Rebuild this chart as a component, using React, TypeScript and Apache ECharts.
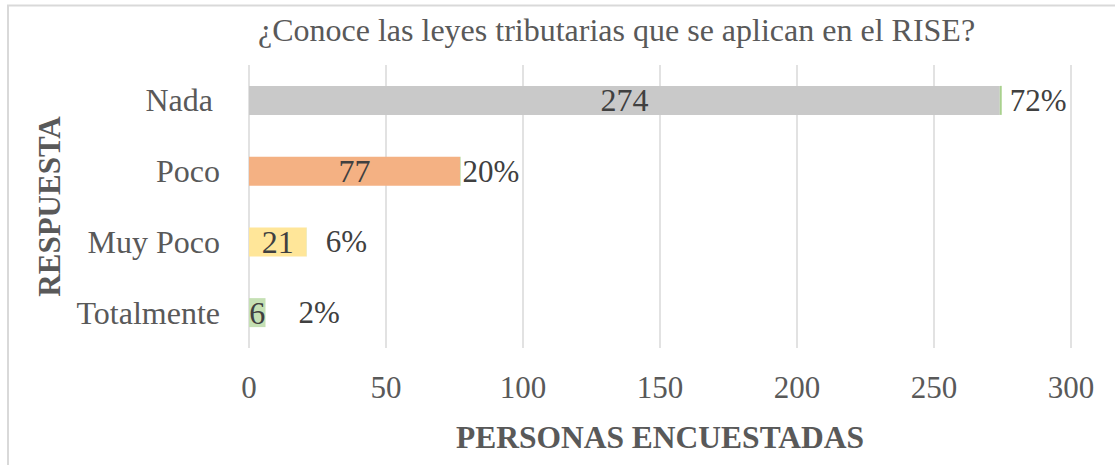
import React, { useEffect, useRef } from "react";
import * as echarts from "echarts";

const categories = ["Nada", "Poco", "Muy Poco", "Totalmente"];
const personas = [274, 77, 21, 6];
const porcentajes = [72, 20, 6, 2];
const xTicks = { min: 0, max: 300, interval: 50 };

const barColors = ["#c9c9c9", "#f4b183", "#ffe699", "#c5e0b4"];
const pctLabelGap = [8, 2, 19, 33];

const FONT = '"Liberation Serif", "Times New Roman", serif';
const TEXT = "#595959";
const DARK = "#404040";

export default function App() {
  const ref = useRef<HTMLDivElement>(null);
  useEffect(() => {
    document.body.style.margin = "0";
    if (!ref.current) return;
    const chart = echarts.init(ref.current, undefined, { renderer: "svg" });
    chart.setOption({
      animation: false,
      backgroundColor: "#ffffff",
      textStyle: { fontFamily: FONT },
      title: {
        text: "¿Conoce las leyes tributarias que se aplican en el RISE?",
        left: 258,
        top: 14,
        padding: 0,
        textStyle: { fontFamily: FONT, fontSize: 32, fontWeight: "normal", color: TEXT },
      },
      graphic: [
        {
          type: "rect",
          shape: { x: 8, y: 5.5, width: 1200, height: 600 },
          style: { fill: "none", stroke: "#d9d9d9", lineWidth: 2 },
          silent: true,
        },
      ],
      grid: { left: 249, right: 44, top: 65, bottom: 117 },
      xAxis: {
        type: "value",
        min: xTicks.min,
        max: xTicks.max,
        interval: xTicks.interval,
        axisLine: { show: false },
        axisTick: { show: false },
        splitLine: { show: true, lineStyle: { color: "#d9d9d9", width: 1.5 } },
        axisLabel: { color: TEXT, fontSize: 31, fontFamily: FONT, margin: 24 },
        name: "PERSONAS ENCUESTADAS",
        nameLocation: "middle",
        nameGap: 73,
        nameTextStyle: { color: TEXT, fontSize: 31.5, fontWeight: "bold", fontFamily: FONT },
      },
      yAxis: {
        type: "category",
        inverse: true,
        data: categories,
        axisLine: { show: false },
        axisTick: { show: false },
        axisLabel: {
          color: TEXT,
          fontSize: 32,
          fontFamily: FONT,
          margin: 29,
          formatter: (v: string) => (v === "Nada" ? `{pad|${v}}` : v),
          rich: {
            pad: { padding: [0, 7, 0, 0], color: TEXT, fontSize: 32, fontFamily: FONT },
          },
        },
        name: "RESPUESTA",
        nameLocation: "middle",
        nameRotate: 90,
        nameGap: 184,
        nameTextStyle: { color: TEXT, fontSize: 31, fontWeight: "bold", fontFamily: FONT },
      },
      series: [
        {
          name: "Personas",
          type: "bar",
          stack: "total",
          barWidth: 29,
          data: personas.map((v, i) => ({ value: v, itemStyle: { color: barColors[i] } })),
          label: {
            show: true,
            position: "inside",
            color: DARK,
            fontSize: 32,
            fontFamily: FONT,
          },
        },
        {
          name: "Porcentaje",
          type: "bar",
          stack: "total",
          barWidth: 29,
          itemStyle: { color: "#a9d18e" },
          data: porcentajes.map((p, i) => ({
            value: p / 100,
            label: { distance: pctLabelGap[i] },
          })),
          label: {
            show: true,
            position: "right",
            color: DARK,
            fontSize: 31,
            fontFamily: FONT,
            formatter: (p: any) => `${porcentajes[p.dataIndex]}%`,
          },
        },
      ],
    });
    return () => chart.dispose();
  }, []);
  return <div ref={ref} style={{ width: 1115, height: 465 }} />;
}
